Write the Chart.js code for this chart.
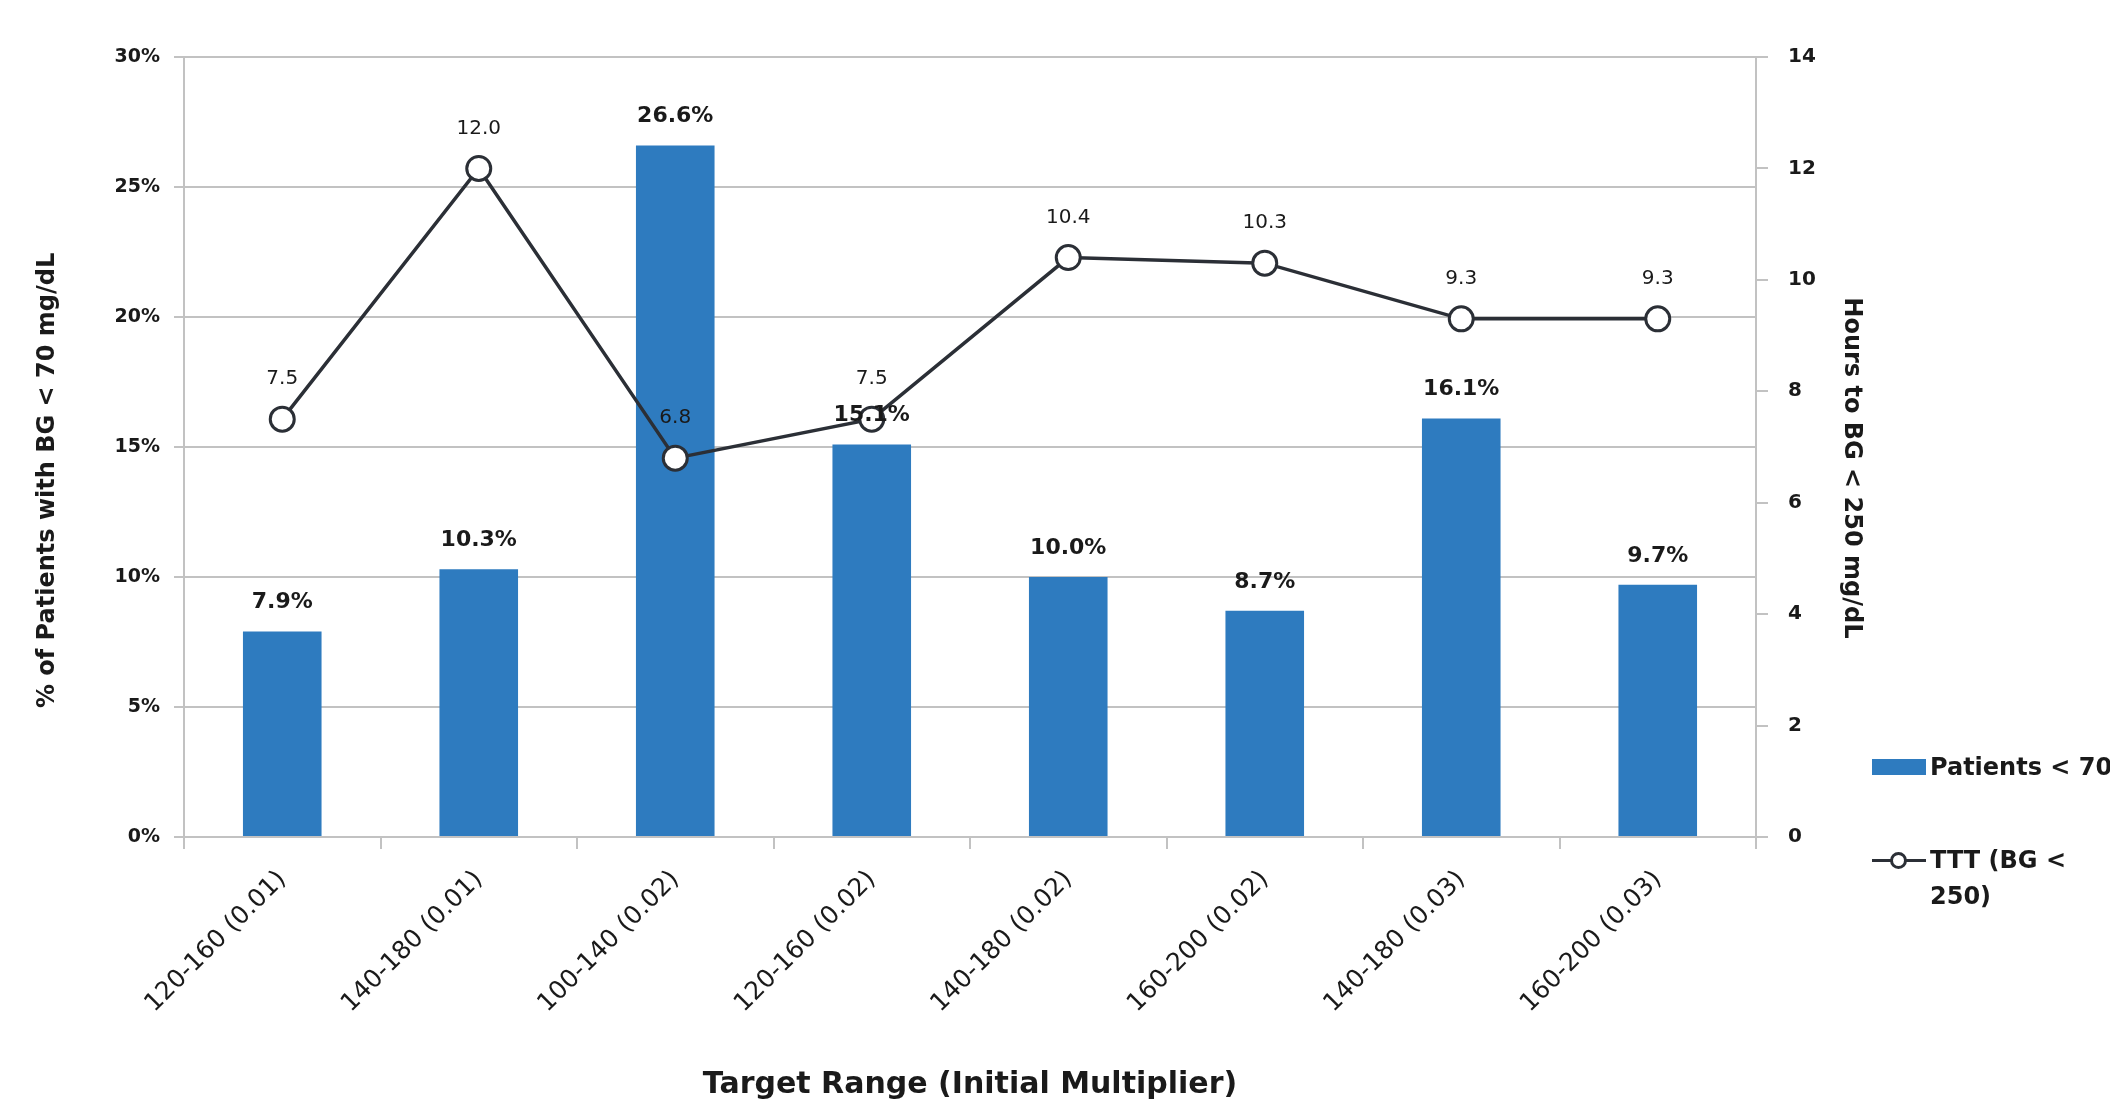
<!DOCTYPE html>
<html>
<head>
<meta charset="utf-8">
<title>Hypoglycemia and time to target by target range</title>
<script src="https://cdn.jsdelivr.net/npm/chart.js@4.4.1/dist/chart.umd.min.js"></script>
<style>
  html, body { margin: 0; padding: 0; background: #fff; overflow: hidden; }
  #wrap { position: relative; width: 2110px; height: 1104px; overflow: hidden; }
  #legend { position: absolute; left: 1872px; top: 749px; font: bold 24px "DejaVu Sans", sans-serif; color: #1a1a1a; }
  .item { display: flex; align-items: flex-start; margin-bottom: 57px; }
  .sym { position: relative; width: 54px; height: 36px; flex: none; margin-right: 4px; }
  .txt { line-height: 36px; width: 170px; }
  .item:first-child .txt { white-space: nowrap; }
  .box { position: absolute; left: 0; top: 10px; width: 54px; height: 16px; }
  .ln { position: absolute; left: 0; top: 17px; width: 54px; height: 3px; }
  .dot { position: absolute; left: 18px; top: 10px; width: 11px; height: 11px; border: 3px solid; border-radius: 50%; background: #fff; }
</style>
</head>
<body>
<div id="wrap">
  <canvas id="chart" width="2110" height="1104"></canvas>
  <div id="legend"></div>
</div>
<script>
// --- data ---
const categories = ['120-160 (0.01)', '140-180 (0.01)', '100-140 (0.02)', '120-160 (0.02)',
                    '140-180 (0.02)', '160-200 (0.02)', '140-180 (0.03)', '160-200 (0.03)'];
const patientsBelow70 = [7.9, 10.3, 26.6, 15.1, 10.0, 8.7, 16.1, 9.7];   // % of patients
const hoursToTarget = [7.5, 12.0, 6.8, 7.5, 10.4, 10.3, 9.3, 9.3];        // hours
const pctTicks = [0, 5, 10, 15, 20, 25, 30];
const hourTicks = [0, 2, 4, 6, 8, 10, 12, 14];

const barColor = '#2e7bbf';
const lineColor = '#2b2f36';
const textColor = '#1a1a1a';
const gridColor = '#c2c2c2';

Chart.defaults.font.family = '"DejaVu Sans", sans-serif';
Chart.defaults.color = textColor;

// value labels above bars and points
const valueLabels = {
    id: 'valueLabels',
    afterDatasetsDraw(chart) {
        const ctx = chart.ctx;
        chart.data.datasets.forEach((ds, i) => {
            const meta = chart.getDatasetMeta(i);
            const isBar = ds.type === 'bar';
            ctx.save();
            ctx.fillStyle = textColor;
            ctx.textAlign = 'center';
            ctx.textBaseline = 'middle';
            ctx.font = isBar ? 'bold 22px "DejaVu Sans"' : '20px "DejaVu Sans"';
            meta.data.forEach((el, j) => {
                const v = ds.data[j];
                const txt = isBar ? v.toFixed(1) + '%' : v.toFixed(1);
                ctx.fillText(txt, el.x, el.y - (isBar ? 29 : 40));
            });
            ctx.restore();
        });
    }
};

const ctx = document.getElementById('chart').getContext('2d');
const chart = new Chart(ctx, {
    data: {
        labels: categories,
        datasets: [
            {
                type: 'line',
                label: 'TTT (BG < 250)',
                data: hoursToTarget,
                yAxisID: 'y1',
                order: 0,
                borderColor: lineColor,
                borderWidth: 3.5,
                tension: 0,
                pointRadius: 12,
                pointBorderWidth: 3,
                pointBackgroundColor: '#ffffff',
                pointBorderColor: lineColor
            },
            {
                type: 'bar',
                label: 'Patients < 70 mg/dL',
                data: patientsBelow70,
                yAxisID: 'y',
                order: 1,
                backgroundColor: barColor,
                categoryPercentage: 1,
                barPercentage: 0.4
            }
        ]
    },
    options: {
        responsive: false,
        animation: false,
        layout: { padding: { left: 0, top: 57, right: 224, bottom: 0 } },
        plugins: {
            legend: { display: false },
            tooltip: { enabled: false }
        },
        scales: {
            x: {
                afterFit: s => { s.height = 267; },
                grid: { drawOnChartArea: false, color: gridColor, lineWidth: 2, tickLength: 12 },
                border: { color: gridColor, width: 2 },
                ticks: {
                    autoSkip: false,
                    minRotation: 45,
                    maxRotation: 45,
                    padding: 16,
                    color: textColor,
                    font: { size: 25 }
                },
                title: {
                    display: true,
                    text: 'Target Range (Initial Multiplier)',
                    color: textColor,
                    font: { size: 30, weight: 'bold' },
                    padding: { top: 0, bottom: 1 }
                }
            },
            y: {
                position: 'left',
                min: 0,
                max: 30,
                afterFit: s => { s.width = 184; },
                afterBuildTicks: s => { s.ticks = pctTicks.map(v => ({ value: v })); },
                grid: { color: gridColor, lineWidth: 2, tickLength: 10 },
                border: { color: gridColor, width: 2 },
                ticks: {
                    padding: 14,
                    color: textColor,
                    font: { size: 19, weight: 'bold' },
                    callback: v => v + '%'
                },
                title: {
                    display: true,
                    // trailing spaces push the title a little below the axis middle
                    text: '% of Patients with BG < 70 mg/dL        ',
                    color: textColor,
                    font: { size: 24, weight: 'bold' },
                    padding: { top: 33, bottom: 0 }
                }
            },
            y1: {
                position: 'right',
                min: 0,
                max: 14,
                afterFit: s => { s.width = 130; },
                afterBuildTicks: s => { s.ticks = hourTicks.map(v => ({ value: v })); },
                grid: { drawOnChartArea: false, color: gridColor, lineWidth: 2, tickLength: 12 },
                border: { color: gridColor, width: 2 },
                ticks: {
                    padding: 20,
                    color: textColor,
                    font: { size: 20, weight: 'bold' }
                },
                title: {
                    display: true,
                    text: '     Hours to BG < 250 mg/dL',
                    color: textColor,
                    font: { size: 24, weight: 'bold' },
                    padding: { top: 20, bottom: 0 }
                }
            }
        }
    },
    plugins: [valueLabels]
});

// legend on the right, bar series first
const legend = document.getElementById('legend');
[1, 0].forEach(i => {
    const ds = chart.data.datasets[i];
    const item = document.createElement('div');
    item.className = 'item';
    const sym = document.createElement('div');
    sym.className = 'sym';
    if (ds.type === 'bar') {
        sym.innerHTML = '<div class="box" style="background:' + ds.backgroundColor + '"></div>';
    } else {
        sym.innerHTML = '<div class="ln" style="background:' + ds.borderColor + '"></div>' +
                        '<div class="dot" style="border-color:' + ds.borderColor + '"></div>';
    }
    const txt = document.createElement('div');
    txt.className = 'txt';
    txt.textContent = ds.label;
    item.appendChild(sym);
    item.appendChild(txt);
    legend.appendChild(item);
});
</script>
</body>
</html>
